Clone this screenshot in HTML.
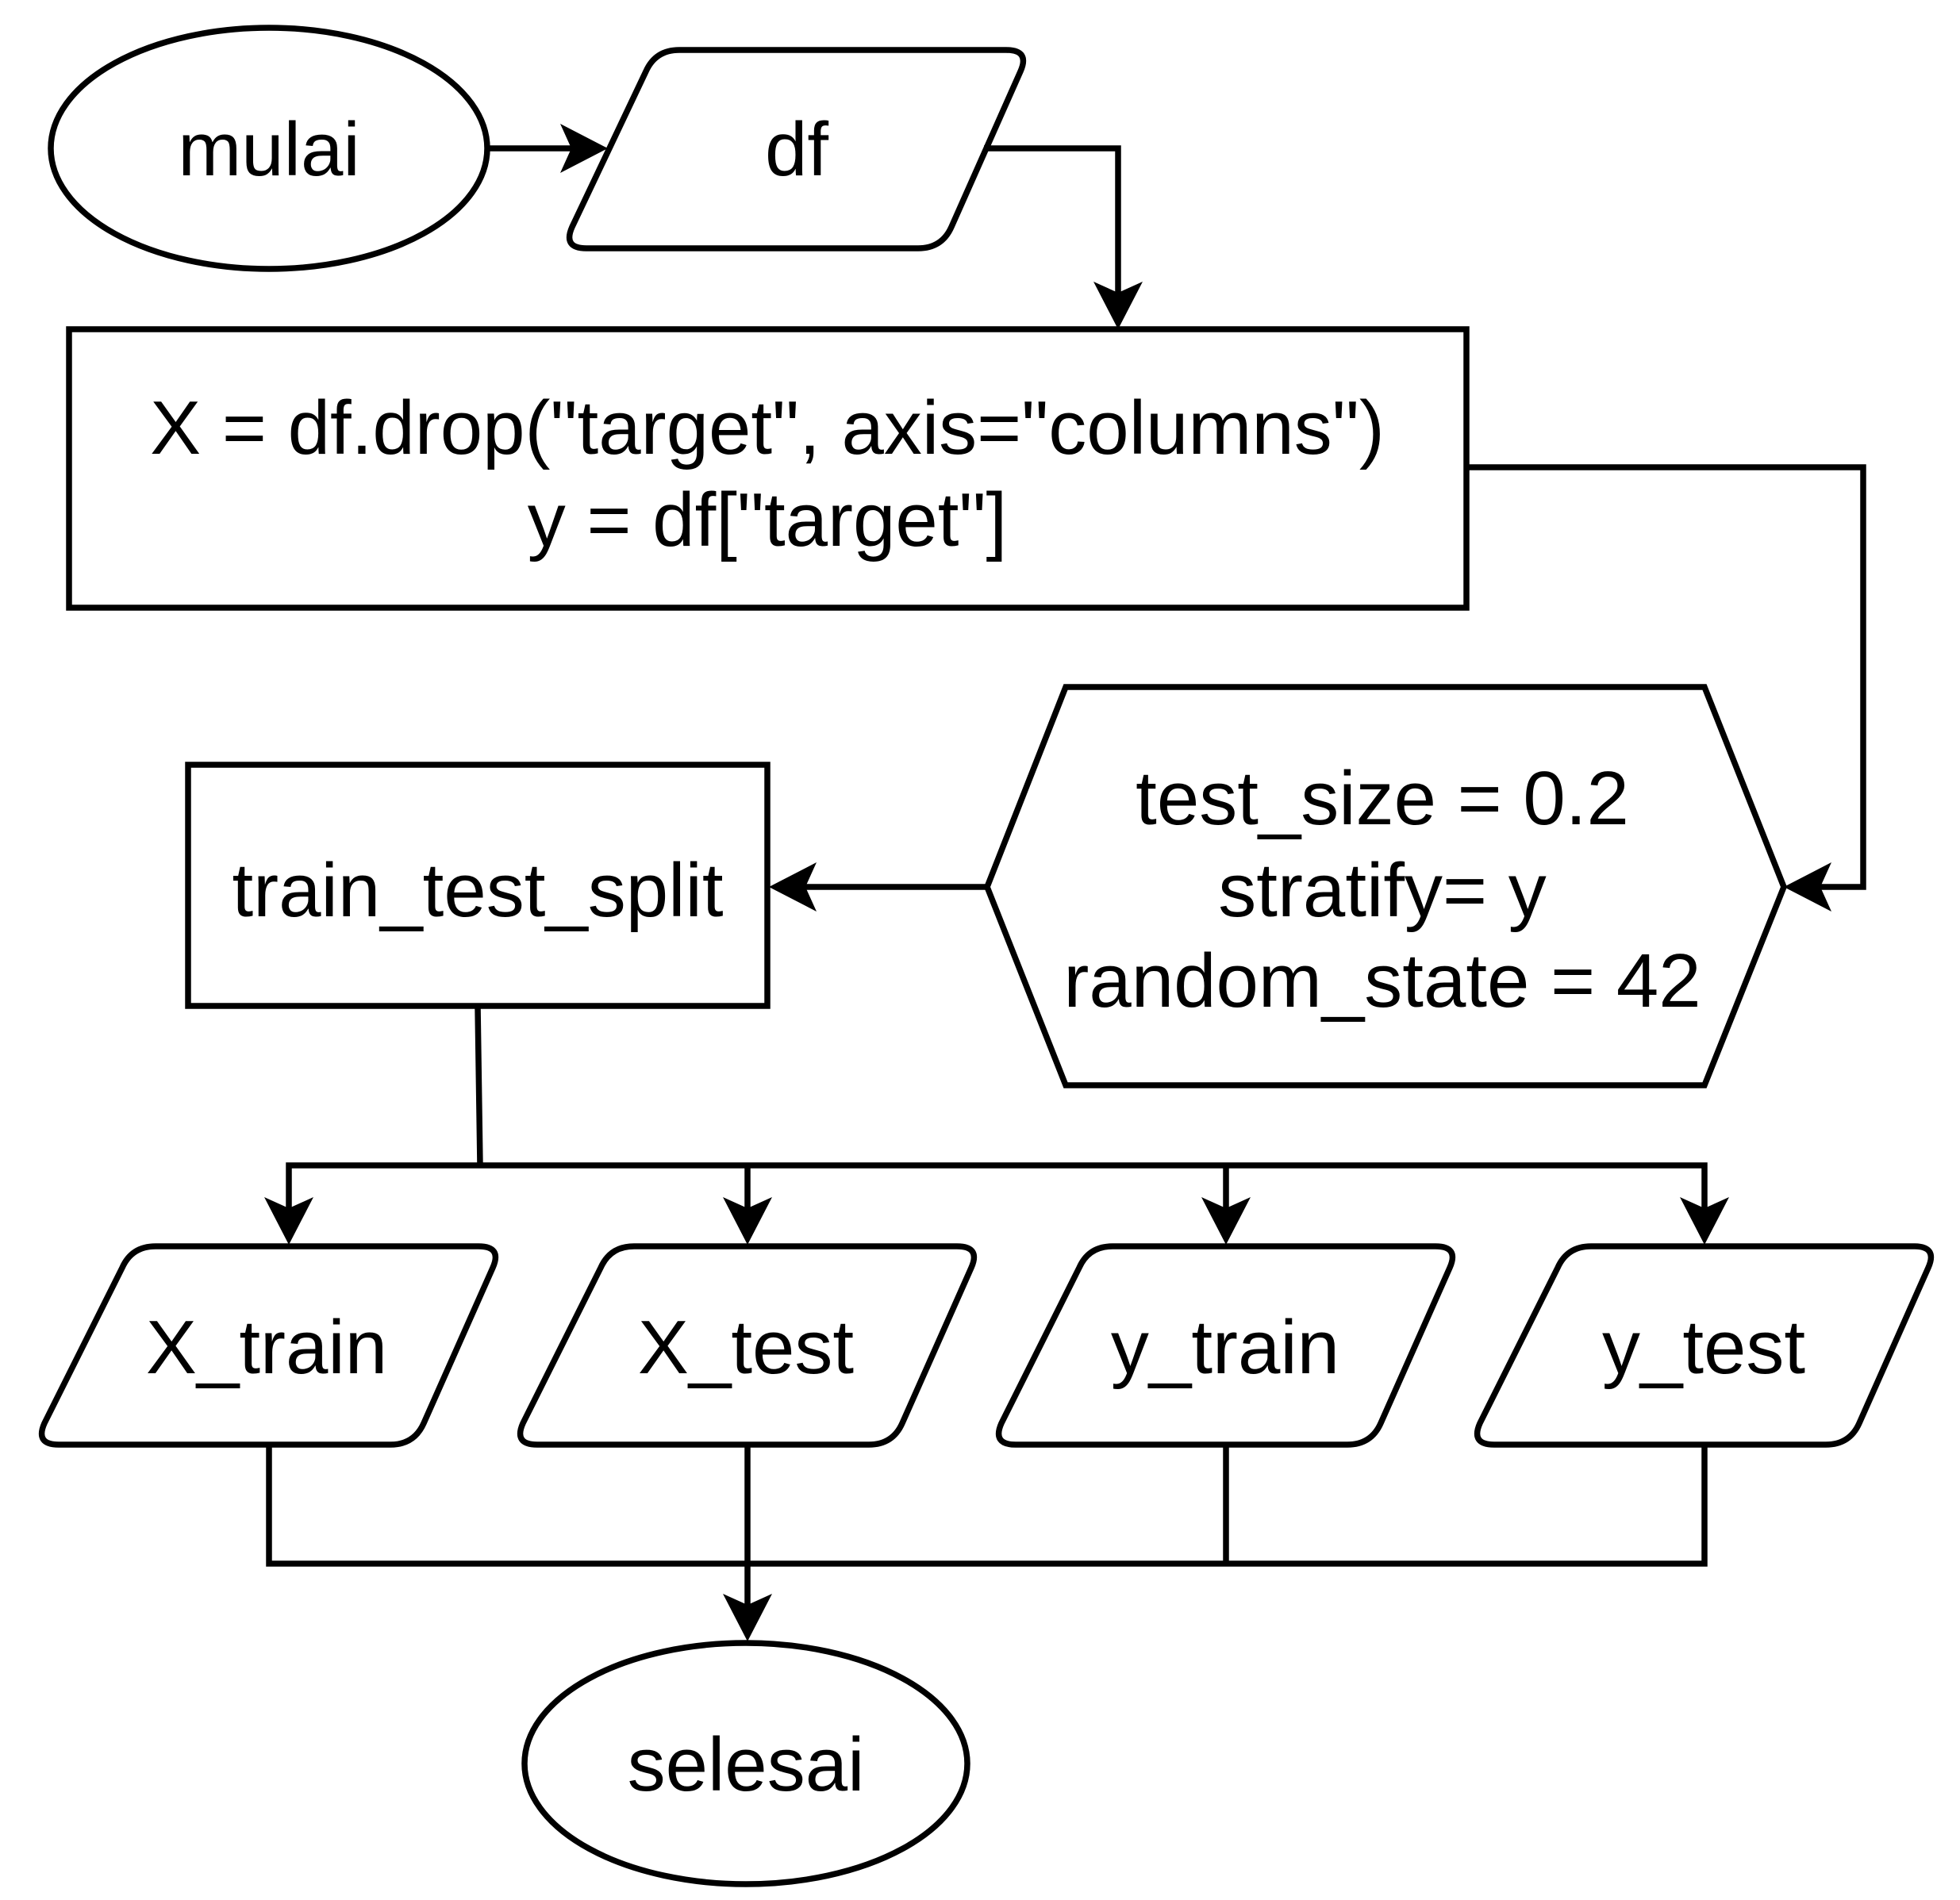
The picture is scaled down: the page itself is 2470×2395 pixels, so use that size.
<!DOCTYPE html>
<html><head><meta charset="utf-8"><style>
html,body{margin:0;padding:0;background:#fff;}
svg{display:block;}
text{font-family:"Liberation Sans",Helvetica,Arial,sans-serif;font-size:96px;fill:#000;text-anchor:middle;}
</style></head><body>
<svg width="2470" height="2395" viewBox="0 0 2470 2395" xmlns="http://www.w3.org/2000/svg">
<defs>
<path id="pg" d="M196,1571 L603,1571 Q633,1571 621,1598 L534,1794 Q522,1821 492,1821 L74,1821 Q44,1821 56,1794 L154,1598 Q166,1571 196,1571 Z"/>
</defs>
<g fill="none" stroke="#000" stroke-width="7.5" stroke-linejoin="round">
  <ellipse cx="339" cy="187" rx="275" ry="152" fill="#fff"/>
  <path d="M856,63 L1268,63 Q1298,63 1286,90 L1199,286 Q1187,313 1157,313 L739,313 Q709,313 721,286 L814,90 Q826,63 856,63 Z" fill="#fff"/>
  <rect x="87" y="415" width="1761" height="351" fill="#fff" stroke-linejoin="miter"/>
  <polygon points="1244,1118 1343,866 2148,866 2248,1118 2148,1368 1343,1368" fill="#fff" stroke-linejoin="miter"/>
  <rect x="237" y="964" width="730" height="304" fill="#fff" stroke-linejoin="miter"/>
  <use href="#pg" fill="#fff"/>
  <use href="#pg" fill="#fff" transform="translate(603,0)"/>
  <use href="#pg" fill="#fff" transform="translate(1206,0)"/>
  <use href="#pg" fill="#fff" transform="translate(1809,0)"/>
  <ellipse cx="940" cy="2223" rx="279" ry="152" fill="#fff"/>
  <g stroke-linejoin="miter">
  <polyline points="614,187 730,187"/>
  <polyline points="1240,187 1409,187 1409,380"/>
  <polyline points="1848,589 2348,589 2348,1118 2280,1118"/>
  <polyline points="1244,1118 1000,1118"/>
  <polyline points="602,1268 605,1469"/>
  <polyline points="364,1540 364,1469 2148,1469 2148,1540"/>
  <polyline points="942,1469 942,1540"/>
  <polyline points="1545,1469 1545,1540"/>
  <polyline points="339,1821 339,1971 2148,1971 2148,1821"/>
  <polyline points="1545,1821 1545,1971"/>
  <polyline points="942,1821 942,2035"/>
  </g>
</g>
<g fill="#000" stroke="none">
  <path d="M766,187 L706,156 L720,187 L706,218 Z"/>
  <path d="M1409,415 L1378,355 L1409,369 L1440,355 Z"/>
  <path d="M2248,1118 L2308,1087 L2294,1118 L2308,1149 Z"/>
  <path d="M969,1118 L1029,1087 L1015,1118 L1029,1149 Z"/>
  <path d="M364,1569 L333,1509 L364,1523 L395,1509 Z"/>
  <path d="M942,1569 L911,1509 L942,1523 L973,1509 Z"/>
  <path d="M1545,1569 L1514,1509 L1545,1523 L1576,1509 Z"/>
  <path d="M2148,1569 L2117,1509 L2148,1523 L2179,1509 Z"/>
  <path d="M942,2069 L911,2009 L942,2023 L973,2009 Z"/>
</g>
<text x="339" y="221">mulai</text>
<text x="1004" y="221">df</text>
<text x="967" y="572">X = df.drop("target", axis="columns")</text>
<text x="967" y="688">y = df["target"]</text>
<text x="1742" y="1039">test_size = 0.2</text>
<text x="1742" y="1155">stratify= y</text>
<text x="1742" y="1269">random_state = 42</text>
<text x="602" y="1155">train_test_split</text>
<text x="336" y="1731">X_train</text>
<text x="940" y="1731">X_test</text>
<text x="1544" y="1731">y_train</text>
<text x="2147" y="1731">y_test</text>
<text x="940" y="2257">selesai</text>
</svg>
</body></html>
